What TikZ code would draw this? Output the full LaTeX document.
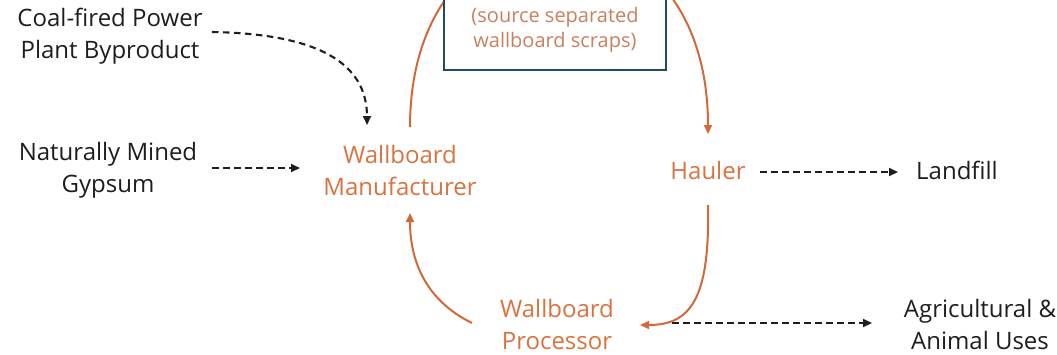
\documentclass[tikz,border=0pt]{standalone}
\usepackage{fontspec}
\setmainfont{Open Sans}
\usetikzlibrary{arrows.meta}
\definecolor{orng}{HTML}{D2693A}
\definecolor{orngtxt}{HTML}{D9733F}
\definecolor{boxtxt}{HTML}{C9805F}
\definecolor{teal}{HTML}{1E4D5C}
\definecolor{ink}{HTML}{1E1E1E}
\begin{document}
\begin{tikzpicture}[x=1pt,y=-1pt,
  lbl/.style={align=center,inner sep=0pt,font=\fontsize{24}{32}\selectfont},
  blk/.style={lbl,text=ink},
  org/.style={lbl,text=orngtxt},
  dasharrow/.style={draw=ink,line width=2.1pt,dash pattern=on 6.5pt off 4.5pt,-{Triangle[length=9pt,width=8pt]}},
  orgarrow/.style={draw=orng,line width=2pt,-{Triangle[length=9pt,width=8pt]}}]
\useasboundingbox (0,0) rectangle (1057,354);
\fill[white] (0,0) rectangle (1057,354);

\node[blk] (coal) at (110,36) {Coal-fired Power\\Plant Byproduct};
\node[blk] (mined) at (108,170) {Naturally Mined\\Gypsum};
\node[org] (mfr) at (400,170) {Wallboard\\Manufacturer};
\node[org] (haul) at (708,170) {Hauler};
\node[blk] (land) at (957,170) {Landfill};
\node[org] (proc) at (557,324) {Wallboard\\Processor};
\node[blk] (agri) at (980,324) {Agricultural \&\\Animal Uses};

% orange arc over the top (behind the box)
\draw[orgarrow] ([shift={(10,-43)}]mfr.center) .. controls (410,-125) and (708,-125) .. ([shift={(0,-36)}]haul.center);

\node[draw=teal,line width=2pt,fill=white,minimum width=222pt,minimum height=80pt,inner sep=0pt,
      text=boxtxt,align=center,font=\fontsize{20}{25}\selectfont] (box) at (555,29.5)
      {(source separated\\wallboard scraps)};

% dashed black arrows
\draw[dasharrow] ([shift={(102,-4)}]coal.center) .. controls (330,34) and (367,70) .. ([shift={(-33,-45)}]mfr.center);
\draw[dasharrow] ([shift={(104,-2)}]mined.center) -- ([shift={(-100,-2)}]mfr.center);
\draw[dasharrow] ([shift={(52,2)}]haul.center) -- ([shift={(-59,2)}]land.center);
\draw[dasharrow] ([shift={(115,-1)}]proc.center) -- ([shift={(-108,-1)}]agri.center);

% orange arrows
\draw[orgarrow] ([shift={(0,35)}]haul.center) .. controls (710,300) and (690,325) .. ([shift={(83,1)}]proc.center);
\draw[orgarrow] ([shift={(-85,-1)}]proc.center) .. controls (425,300) and (410,260) .. ([shift={(10,43)}]mfr.center);
\end{tikzpicture}
\end{document}
